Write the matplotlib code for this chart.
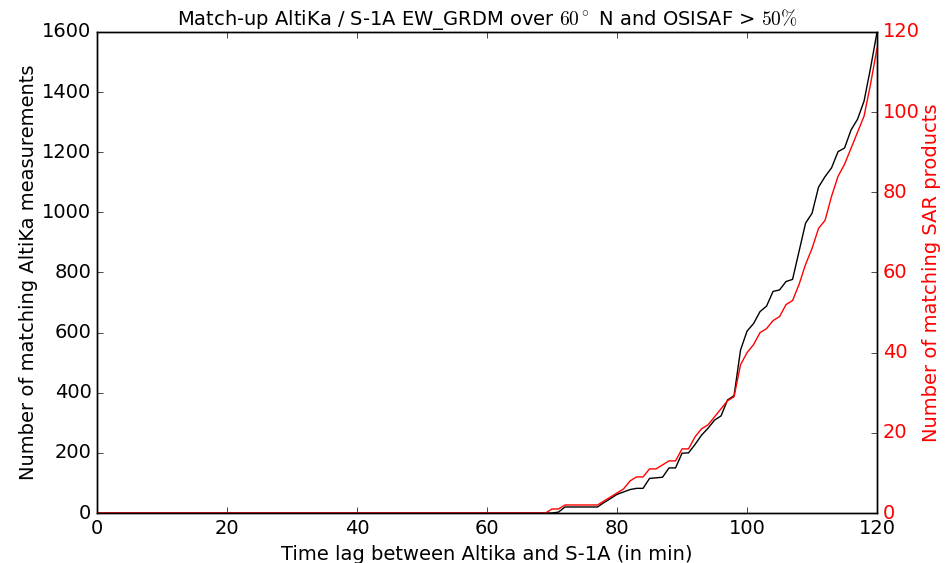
import numpy as np
import matplotlib
matplotlib.use('Agg')
import matplotlib.pyplot as plt

plt.style.use('classic')
plt.rcParams['figure.facecolor'] = 'white'
plt.rcParams['savefig.facecolor'] = 'white'
plt.rcParams['mathtext.fontset'] = 'cm'
plt.rcParams['font.size'] = 14

# time lag in minutes (0..120)
time_lag = list(range(0, 121))

# cumulated number of matching AltiKa measurements (left axis)
n_altika = [0] * 71 + [
    3, 20, 20, 20, 20, 20, 20, 35, 48, 62,          # 71-80
    70, 78, 82, 82, 115, 117, 119, 150, 150, 199,   # 81-90
    200, 228, 259, 282, 309, 323, 376, 390, 542, 605,  # 91-100
    630, 670, 688, 737, 742, 770, 777, 870, 964, 997,  # 101-110
    1084, 1119, 1148, 1202, 1214, 1274, 1310, 1370, 1480, 1600,  # 111-120
]

# cumulated number of matching SAR products (right axis)
n_sar = [0] * 70 + [
    1, 1, 2, 2, 2, 2, 2, 2, 3, 4, 5,        # 70-80
    6, 8, 9, 9, 11, 11, 12, 13, 13, 16,     # 81-90
    16, 19, 21, 22, 24, 26, 28, 29, 37, 40,  # 91-100
    42, 45, 46, 48, 49, 52, 53, 57, 62, 66,  # 101-110
    71, 73, 79, 84, 87, 91, 95, 99, 107, 116,  # 111-120
]

fig = plt.figure(figsize=(9.53, 5.63))
ax = fig.add_axes([0.1018, 0.0888, 0.8185, 0.8544])
ax.plot(time_lag, n_altika, color='k', lw=1.0)
ax.set_xlim(0, 120)
ax.set_ylim(0, 1600)
ax.set_xlabel('Time lag between Altika and S-1A (in min)', labelpad=5.5)
ax.set_ylabel('Number of matching AltiKa measurements', labelpad=3)
ax.set_title(r'Match-up AltiKa / S-1A EW_GRDM over $60^\circ$ N and OSISAF > $50\%$',
             fontsize=14)

ax2 = ax.twinx()
ax2.plot(time_lag, n_sar, color='r', lw=1.0)
ax2.set_xlim(0, 120)
ax2.set_ylim(0, 120)
ax2.set_ylabel('Number of matching SAR products', color='r', labelpad=1.5)
for tl in ax2.get_yticklabels():
    tl.set_color('r')

fig.savefig('out.png', dpi=100)
